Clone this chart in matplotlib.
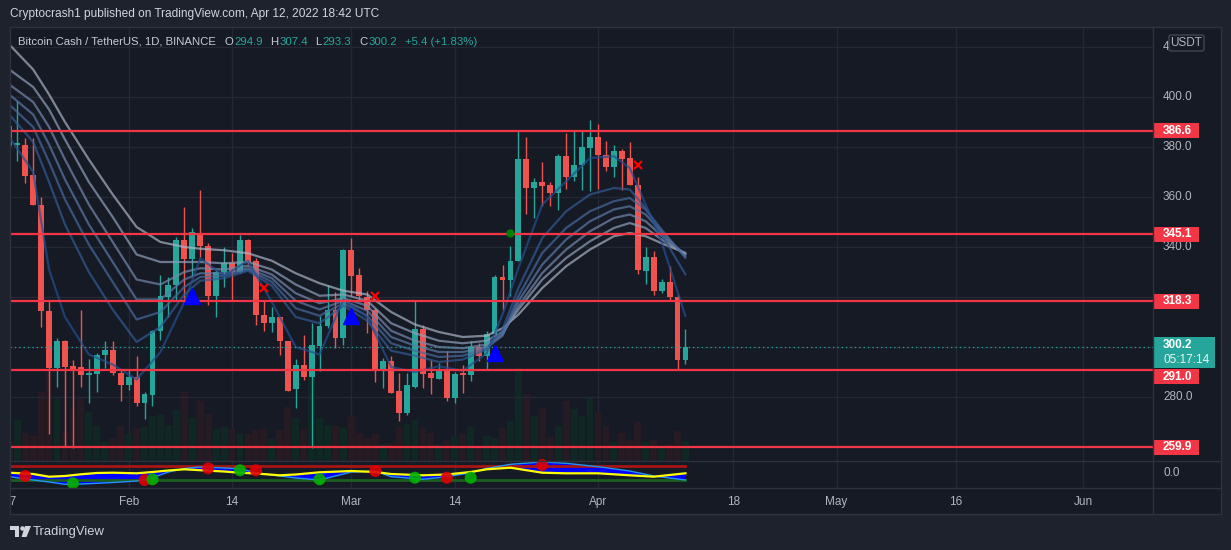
import matplotlib.pyplot as plt
import matplotlib.patches as mpatches
from matplotlib.lines import Line2D
import numpy as np
from datetime import date

plt.rcParams['font.family'] = ['Liberation Sans', 'DejaVu Sans']

# BCH / USDT daily candles, 17 Jan .. 12 Apr 2022
first_day = date(2022, 1, 17)
opens = [388.5, 381, 381, 368.7, 357, 314.6, 291.6, 302.3, 292.3, 292, 289, 289.2, 296.7, 298.8, 289.6,
         285, 287.9, 277.6, 281, 306.3, 319.9, 324.7, 343, 335.2, 345.2, 340.6, 320.3, 330, 333.5, 330,
         343, 334.3, 313, 309.5, 311.9, 302.6, 283.2, 293, 287.9, 300.3, 308.3, 315, 303.6,
         338.7, 328.7, 319.9, 315, 290.3, 294.3, 282.3, 273.6, 283.9, 307.2, 289.5, 287.4, 291, 279.6,
         289.5, 289, 299.9, 296.3, 305.2, 327.9, 327, 334.6, 375.2, 363.6, 365.9, 364.7, 361.6, 376.3,
         367.9, 372.9, 379.6,
         383.9, 377, 371.9, 378.3, 375.6, 365, 330.6, 335.9, 322.3, 325.9, 319.9, 294.9]
highs = [390, 398.3, 383.6, 383.6, 359.9, 318.3, 303.6, 302.8, 294.7, 314.8, 295.2, 297.5, 302.3, 302.3, 291,
         291, 296.6, 281.9, 307, 329, 327.9, 343.9, 355.9, 347.6, 362.7, 341.6, 331, 339.9, 337.5, 344.7,
         343.2, 335.6, 319, 315.9, 311.9, 302.6, 295.4, 305, 309.6, 312.3, 324.7, 321.9, 339.2,
         343.6, 331.6, 322.3, 315.6, 295.6, 296.3, 289.6, 289.6, 318.3, 309, 295, 293.6, 298.3, 290,
         293, 302.3, 301.6, 306.3, 328.7, 332.7, 340.3, 386.6, 383.9, 367.6, 373.9, 365.9, 377.2, 385.6,
         387, 386.3, 391,
         389.2, 382.6, 381, 379.4, 381.9, 367.9, 339.9, 338.3, 327.4, 332.3, 320.9, 307.4]
lows = [379, 374.6, 365.6, 356.7, 308, 265.2, 283.9, 260.3, 259.6, 284, 277.6, 281.9, 291.6, 288.9, 278.3,
        282.7, 276.3, 271.2, 276.3, 303, 311.9, 318.3, 318, 328.3, 335.9, 317, 312, 324.2, 318.6, 329.6,
        333.2, 309, 306.3, 306, 296.7, 282.3, 275.6, 287, 259.6, 290.6, 307.6, 299.6, 301,
        320.3, 318.6, 305.6, 286, 283.6, 281.6, 270.6, 272.7, 283.6, 283.6, 281.2, 287.4, 278.6, 277.6,
        281.6, 286.3, 294.3, 291, 305.2, 315, 320.3, 334.6, 353.2, 351.6, 356.3, 356.3, 355, 363.2,
        366.3, 363, 362.6,
        363.4, 370.3, 367.9, 363, 364.7, 329.2, 325.2, 321, 321.6, 318.6, 291, 293.3]
closes = [380.5, 381.5, 368.4, 357, 314.6, 291.6, 302.6, 292, 291, 289, 289.6, 296.7, 298.8, 289.6, 285,
          287.9, 277.6, 281.2, 306.3, 320.3, 324.7, 343, 335.2, 345.9, 340.3, 320.3, 330, 333.5, 330, 343,
          333.9, 312.7, 309.5, 311.9, 302.3, 282.6, 293, 287.9, 300.7, 308.3, 315, 303.6, 338.7,
          328.3, 320.3, 315, 290.3, 294.3, 281.6, 273.6, 284.7, 307.2, 289.2, 287.6, 290.6, 279.6, 289.2,
          289, 299.9, 296.3, 305.2, 327.9, 327, 334.6, 375.2, 363.6, 365.9, 364.3, 361.6, 376.3, 367.9,
          372.9, 379.9, 383.9,
          376.7, 371.9, 378.3, 375.2, 364.7, 330.7, 335.9, 322.6, 325.9, 319.9, 294.8, 300.2]
volumes = [20, 41, 28.3, 25, 69.3, 92, 62.3, 30, 51.7, 62.7, 49, 35, 19, 23.3, 35,
           27.3, 33.3, 34.3, 45, 46, 36, 51, 69.3, 43.3, 60, 47.3, 32.3, 34.3, 32.3, 27.3,
           27.3, 31, 32.3, 22.3, 31, 54, 43.3, 32.3, 84, 43.3, 36, 35, 33,
           44.3, 28.3, 23.3, 27.3, 16.7, 17.7, 34, 37.3, 41, 33.3, 28.3, 16.7, 21, 25,
           27.3, 34, 13, 25, 23.3, 33.3, 40, 93.3, 66.7, 45, 52.7, 24, 35, 60,
           51.7, 45, 64,
           49, 35, 19, 28.3, 21, 39, 19, 21, 13.3, 16.7, 30, 20]

levels = [386.6, 345.1, 318.3, 291.0, 259.9]
countdown = '05:17:14'

# EMA ribbon, slowest (light) to fastest (dark), sampled on these days
rib_day = [0, 3, 5, 7, 10, 13, 16, 19, 22, 24, 27, 30, 33, 36, 39, 42, 45, 48, 51, 54, 57, 60, 62, 64,
           67, 70, 73, 76, 78, 80, 82, 85]
rib1 = [421, 411, 401, 390, 375, 361, 348, 342, 340, 339.3, 338.7, 337.5, 334.5, 329.5, 325.5, 322.5,
        321, 314, 309, 306, 304, 304.5, 307.5, 313, 323.6, 332.3, 339, 344.3, 345.6, 344.3, 341.5, 337.6]
rib2 = [411, 404, 395, 383, 366, 352, 337, 334, 334, 334, 333.5, 334, 331, 325, 320.5, 321,
        318.5, 309.5, 305.5, 302.5, 301.5, 302.5, 306, 315, 327, 335.6, 342.3, 347.6, 349.6, 347.6, 343, 337.2]
rib3 = [405, 398, 388, 375, 357, 342, 327, 325, 330, 331.5, 331, 332.5, 329, 321.5, 317.5, 319.5,
        316.5, 306.5, 302.5, 300, 299.5, 301, 305, 316.3, 329.6, 339, 346.3, 351.6, 353, 350.3, 344.5, 337]
rib4 = [401, 393, 381, 367, 349, 334, 319, 319, 327, 329.5, 329.5, 331.5, 327.5, 318.5, 315, 318.5,
        314.5, 304, 300.5, 298, 298, 300, 304.5, 318.3, 333, 343, 350.3, 355, 356.3, 353, 346, 336.3]
rib5 = [397, 388, 374, 359, 341, 326, 311, 314, 324, 328, 328.5, 331, 326, 315.5, 312.5, 317.5,
        312.5, 301.5, 298.5, 296, 296.5, 299.5, 305, 320.3, 337.6, 347.6, 354.3, 358.3, 359.6, 355, 347, 335.6]
rib6 = [393, 382, 366, 349, 330, 315, 302, 308, 321, 326.5, 327.5, 330.5, 324.5, 312, 309.5, 316.5,
        310.5, 298.5, 296.5, 294, 295, 299, 307, 323.6, 343.6, 354.3, 361, 363.6, 363, 355.6, 345, 329]
rib7 = [384, 370, 331, 312, 297, 293, 287, 298, 318, 335.5, 328.5, 334.5, 318, 300, 297, 319,
        312, 292, 290, 292.3, 290.5, 297.5, 313, 331.6, 357, 366.3, 375.6, 376.3, 371.6, 357, 342, 312.3]

# signals on the price chart
buy_day = [23, 43, 61]
buy_price = [320.5, 312.5, 297.6]
sell_day = [32, 46, 79]
sell_price = [323.7, 320.4, 372.8]
dot_day = [63]
dot_price = [345.5]

# lower oscillator pane
osc_day = [0, 3, 5, 7, 9, 11, 13, 16, 18, 20, 22, 24, 27, 29, 31, 34, 36, 39, 43, 46, 48, 52, 55, 58,
           60, 63, 67, 70, 74, 78, 81, 85]
osc_slow = [0.3, -1, -3.7, -3, -1.3, 0, 0.3, -0.3, 1, 2.5, 3.7, 2.8, 1.5, 0.3, -0.5, -2.3,
            -1.5, 0.7, 2, 1, -1, -2.3, -1.5, 1, 3.7, 5.3, 0.3, -0.3, -0.3, -2.3, -3.7, -0.3]
osc_fast = [-3.7, -7, -9, -11.3, -11, -10.3, -9.5, -8, -4.7, 1, 4.5, 6, 5, 4.3, 0.3, -3,
            -5, -7, 1, 2, -3.7, -6.3, -3.7, 0.3, 4.5, 8.7, 11, 9.7, 6.3, 2, -3, -7]
osc_over = 7
osc_under = -7
cross_day = [2, 8, 17, 18, 25, 29, 31, 39, 46, 51, 55, 58, 67]
cross_val = [-3, -10.3, -7, -6.3, 4.7, 2.7, 2.7, -6.3, 2, -4.7, -4.7, -4.7, 8]
cross_up = [False, True, False, True, False, True, False, True, False, True, False, True, False]

tick_dates = [date(2022, 1, 17), date(2022, 2, 1), date(2022, 2, 14), date(2022, 3, 1),
              date(2022, 3, 14), date(2022, 4, 1), date(2022, 4, 18), date(2022, 5, 1),
              date(2022, 5, 16), date(2022, 6, 1)]
tick_labels = ['17', 'Feb', '14', 'Mar', '14', 'Apr', '18', 'May', '16', 'Jun']
price_ticks = [260, 280, 300, 320, 340, 360, 380, 400, 420]

# ---------------------------------------------------------------
W, H = 1231, 550
OUTER = '#1e222d'
BG = '#161a25'
GRID = '#242834'
SEP = '#2e323e'
TXT = '#b2b5be'
UP = '#26a69a'
DN = '#ef5350'
LEVEL = '#f23645'

def rect(x0, y0, x1, y1):
    return [x0 / W, 1 - y1 / H, (x1 - x0) / W, (y1 - y0) / H]

def bare(a):
    a.set_xticks([])
    a.set_yticks([])
    for s in a.spines.values():
        s.set_visible(False)

def figline(x0, y0, x1, y1, color=SEP, lw=1):
    fig.add_artist(Line2D([x0 / W, x1 / W], [1 - y0 / H, 1 - y1 / H], color=color, lw=lw))

fig = plt.figure(figsize=(W / 100, H / 100), dpi=100, facecolor=OUTER)

xlo = (10 - 9.3) / 7.955
xhi = (1153 - 9.3) / 7.955
ylo, yhi = 254.4, 427.6
ppx = (yhi - ylo) / 433.0

n = len(closes)
days = np.arange(n)
o, hi, lo, c = (np.array(v, dtype=float) for v in (opens, highs, lows, closes))
col = np.where(c >= o, UP, DN)
tick_days = [(d - first_day).days for d in tick_dates]

# volume pane (bottom layer)
ax_v = fig.add_axes(rect(10, 28, 1153, 461), facecolor=BG)
ax_v.set_xlim(xlo, xhi)
ax_v.set_ylim(0, 433)
bare(ax_v)
vcol = np.where(c >= o, '#0f2824', '#261a23')
ax_v.bar(days, volumes, width=0.86, color=vcol, linewidth=0, zorder=2)
for td in tick_days:
    ax_v.axvline(td, color=GRID, lw=1, zorder=1)

# price pane
ax = fig.add_axes(rect(10, 28, 1153, 461), facecolor='none')
ax.set_xlim(xlo, xhi)
ax.set_ylim(ylo, yhi)
bare(ax)
for p in price_ticks:
    ax.axhline(p, color=GRID, lw=1, zorder=0)

ax.vlines(days, lo, hi, colors=col, lw=1, zorder=3)
ax.bar(days, np.maximum(np.abs(c - o), 0.5), bottom=np.minimum(o, c), width=0.74,
       color=col, linewidth=0, zorder=3)

ribs = [rib1, rib2, rib3, rib4, rib5, rib6, rib7]
rib_cols = ['#aab4c6', '#8e9fba', '#7589ad', '#5c79a6', '#46699d', '#325b95', '#224f8f']
for vals, rc in zip(ribs, rib_cols):
    ax.plot(rib_day, vals, color=rc, lw=1.6, alpha=0.7, zorder=4, solid_capstyle='round')

for lv in levels:
    ax.axhline(lv, color=LEVEL, lw=1.6, zorder=5)
ax.axhline(c[-1], color=UP, lw=0.9, ls=(0, (1, 2.5)), zorder=5)

ax.plot(buy_day, buy_price, ls='none', marker='^', ms=11, color='#0000ff', zorder=6)
ax.plot(sell_day, sell_price, ls='none', marker='x', ms=6, mew=1.6, color='#ff0000', zorder=6)
ax.plot(dot_day, dot_price, ls='none', marker='o', ms=5, color='#008000', zorder=6)

# price scale
ax_r = fig.add_axes(rect(1153, 28, 1221, 461), facecolor=BG)
ax_r.set_xlim(0, 68)
ax_r.set_ylim(ylo, yhi)
bare(ax_r)

badge = mpatches.FancyBboxPatch((16, yhi - 23 * ppx), 35, 16 * ppx,
                                boxstyle='round,pad=0,rounding_size=2', mutation_aspect=ppx,
                                fc=BG, ec='#434651', lw=1, zorder=3)
ax_r.add_patch(badge)
ax_r.text(33.5, yhi - 15 * ppx, 'USDT', color=TXT, fontsize=8.5, va='center', ha='center', zorder=4)

marks = list(levels) + [c[-1]]
for p in price_ticks:
    if min(abs(p - m) for m in marks) < 2:
        continue  # fully covered by a price label box
    t = ax_r.text(10, p, f'{p:.1f}', color=TXT, fontsize=8.5, va='center', ha='left', zorder=1)
    if p > yhi - 23 * ppx - 4 * ppx:
        clip = mpatches.Rectangle((0, ylo), 16, yhi - ylo, transform=ax_r.transData)
        t.set_clip_path(clip)

label_shift_px = [0, 0, 0, 7, 0]
for lv, sh in zip(levels, label_shift_px):
    yc = lv - sh * ppx
    ax_r.add_patch(mpatches.Rectangle((0, yc - 7.6 * ppx), 46, 15.2 * ppx, fc=LEVEL, ec='none', zorder=3))
    ax_r.text(10, yc, f'{lv:.1f}', color='white', fontsize=8.5, fontweight='bold',
              va='center', ha='left', zorder=4)

ax_r.add_patch(mpatches.Rectangle((0, c[-1] - 21.5 * ppx), 62, 31 * ppx, fc=UP, ec='none', zorder=3))
ax_r.text(10, c[-1] + 1.5 * ppx, f'{c[-1]:.1f}', color='white', fontsize=8.5, fontweight='bold',
          va='center', ha='left', zorder=4)
ax_r.text(10, c[-1] - 13 * ppx, countdown, color='#e6f4f1', fontsize=8.5,
          va='center', ha='left', zorder=4)

# oscillator pane
ax_i = fig.add_axes(rect(10, 461, 1153, 488), facecolor=BG)
ax_i.set_xlim(xlo, xhi)
ax_i.set_ylim(-15, 12)
bare(ax_i)
for td in tick_days:
    ax_i.axvline(td, color=GRID, lw=1, zorder=0)
span = [osc_day[0], osc_day[-1]]
ax_i.fill_between(osc_day, osc_slow, osc_fast, color='#0000ff', lw=0, zorder=1)
ax_i.plot(span, [osc_over, osc_over], color='#a81515', lw=2, zorder=2)
ax_i.plot(span, [osc_under, osc_under], color='#1b5e20', lw=2, zorder=2)
ax_i.plot(osc_day, osc_fast, color='#2196f3', lw=1, zorder=3)
ax_i.plot(osc_day, osc_slow, color='#ffff00', lw=1.6, zorder=3)
cc = np.where(cross_up, '#00b000', '#e00000')
ax_i.scatter(cross_day, cross_val, s=75, c=list(cc), alpha=0.9, lw=0, zorder=4, clip_on=False)

ax_ir = fig.add_axes(rect(1153, 461, 1221, 488), facecolor=BG)
ax_ir.set_xlim(0, 68)
ax_ir.set_ylim(-15, 12)
bare(ax_ir)
ax_ir.text(10, 0, '0.0', color=TXT, fontsize=8.5, va='center', ha='left')

# time scale
ax_d = fig.add_axes(rect(10, 488, 1153, 514), facecolor=BG)
ax_d.set_xlim(xlo, xhi)
ax_d.set_ylim(0, 1)
bare(ax_d)
for td, tl in zip(tick_days, tick_labels):
    ax_d.text(td, 0.48, tl, color=TXT, fontsize=8.5, ha='center', va='center', clip_on=True)
ax_dr = fig.add_axes(rect(1153, 488, 1221, 514), facecolor=BG)
bare(ax_dr)

# frame and separators
figline(10, 461, 1221, 461)
figline(10, 488, 1221, 488)
figline(1153, 27, 1153, 514)
figline(10, 27, 1221, 27)
figline(10, 514, 1221, 514)
figline(1221, 27, 1221, 514)
figline(10, 27, 10, 514)

# header and legend
fig.text(10 / W, 1 - 14.5 / H, 'Cryptocrash1 published on TradingView.com, Apr 12, 2022 18:42 UTC',
         color='#d1d4dc', fontsize=8.55, va='center', ha='left')

renderer = fig.canvas.get_renderer()
chg = c[-1] - c[-2]
LEG = '#c8cbd3'
legend_parts = [
    ('Bitcoin Cash / TetherUS, 1D, BINANCE', LEG, 8.5),
    ('O', LEG, 1), (f'{o[-1]:.1f}', UP, 7.5),
    ('H', LEG, 1), (f'{hi[-1]:.1f}', UP, 7.5),
    ('L', LEG, 1), (f'{lo[-1]:.1f}', UP, 7.5),
    ('C', LEG, 1), (f'{c[-1]:.1f}', UP, 8),
    (f'{chg:+.1f} ({chg / c[-2] * 100:+.2f}%)', UP, 0),
]
px = 18.0
for txt, tc, gap in legend_parts:
    t = fig.text(px / W, 1 - 42 / H, txt, color=tc, fontsize=8.2, va='center', ha='left')
    px += t.get_window_extent(renderer).width + gap

# TradingView mark
lc = '#d1d4dc'
fig.add_artist(mpatches.Polygon([(10 / W, 1 - 526 / H), (19 / W, 1 - 526 / H), (19 / W, 1 - 537 / H),
                                 (15 / W, 1 - 537 / H), (15 / W, 1 - 530 / H), (10 / W, 1 - 530 / H)],
                                closed=True, fc=lc, ec='none', transform=fig.transFigure))
fig.add_artist(mpatches.Ellipse((22.5 / W, 1 - 528.5 / H), 4.5 / W, 4.5 / H, fc=lc, ec='none',
                                transform=fig.transFigure))
fig.add_artist(mpatches.Polygon([(25 / W, 1 - 526 / H), (31 / W, 1 - 526 / H), (26.5 / W, 1 - 537 / H),
                                 (21.5 / W, 1 - 537 / H)],
                                closed=True, fc=lc, ec='none', transform=fig.transFigure))
fig.text(33 / W, 1 - 532 / H, 'TradingView', color=lc, fontsize=9.4, va='center', ha='left')

fig.savefig('out.png', dpi=100, facecolor=OUTER)
